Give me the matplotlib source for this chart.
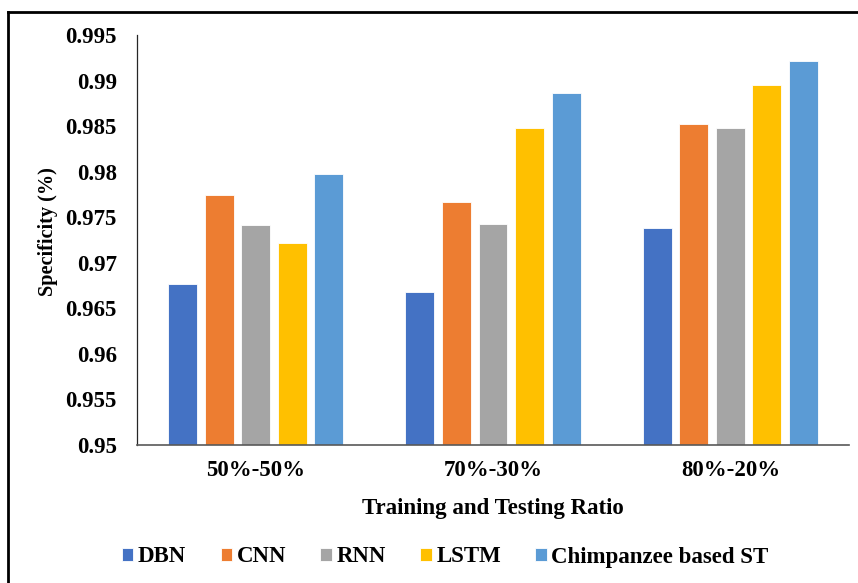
#!/usr/bin/env python3

import numpy as np
from matplotlib import pyplot as plt
from matplotlib.lines import Line2D

plt.rcParams['font.family'] = 'Liberation Serif'
plt.rcParams['font.weight'] = 'bold'
plt.rcParams['axes.labelweight'] = 'bold'
plt.rcParams['font.size'] = 16.5

RATIOS = ['50%-50%', '70%-30%', '80%-20%']
METHODS = ['DBN', 'CNN', 'RNN', 'LSTM', 'Chimpanzee based ST']
CLRS = ['#4472C4', '#ED7D31', '#A5A5A5', '#FFC000', '#5B9BD5']

DBN = [0.9677, 0.9668, 0.9738]
CNN = [0.9774, 0.9767, 0.9852]
RNN = [0.9742, 0.9743, 0.9848]
LSTM = [0.9722, 0.9848, 0.9895]
CHIMP_ST = [0.9797, 0.9886, 0.9921]

YTICKS = [0.95, 0.955, 0.96, 0.965, 0.97, 0.975, 0.98, 0.985, 0.99, 0.995]
YTICK_LABELS = ['0.95', '0.955', '0.96', '0.965', '0.97', '0.975',
                '0.98', '0.985', '0.99', '0.995']

series = [DBN, CNN, RNN, LSTM, CHIMP_ST]

fig = plt.figure(figsize=(8.58, 5.83), dpi=100)
ax = fig.add_axes([0.1597, 0.2367, 0.8298, 0.7033])

x = np.arange(len(RATIOS))
step = 0.154
width = 0.122
for k, (vals, name) in enumerate(zip(series, METHODS)):
    ax.bar(x + (k - 2) * step, vals, width,
           color=CLRS[k], edgecolor='white', linewidth=0.6,
           label=name, zorder=2)

ax.set_xlim(-0.5, len(RATIOS) - 0.5)
ax.set_ylim(0.95, 0.995)
ax.set_yticks(YTICKS)
ax.set_yticklabels(YTICK_LABELS)
ax.set_xticks(x)
ax.set_xticklabels(RATIOS)
ax.tick_params(axis='both', length=0)
ax.tick_params(axis='y', pad=14.5)
ax.tick_params(axis='x', pad=11)

ax.spines['top'].set_visible(False)
ax.spines['right'].set_visible(False)
ax.spines['left'].set_color('#262626')
ax.spines['left'].set_linewidth(0.9)
ax.spines['bottom'].set_color('#595959')
ax.spines['bottom'].set_linewidth(1.2)

ax.set_xlabel('Training and Testing Ratio', labelpad=12)
ax.set_ylabel('Specificity (%)', fontsize=14.6)
ax.yaxis.set_label_coords(-0.111, 0.52)

leg = fig.legend(loc='center', ncol=5, bbox_to_anchor=(0.519, 1 - 557 / 583),
                 frameon=False, handlelength=0.5, handleheight=0.5,
                 handletextpad=0.2, columnspacing=1.5)

# outer frame line, top and left edges only
fig.add_artist(Line2D([8 / 858, 8 / 858], [0, 1 - 12 / 583],
                      transform=fig.transFigure, color='black', lw=2))
fig.add_artist(Line2D([8 / 858, 1], [1 - 12 / 583, 1 - 12 / 583],
                      transform=fig.transFigure, color='black', lw=2))

plt.savefig('out.png', dpi=100)
